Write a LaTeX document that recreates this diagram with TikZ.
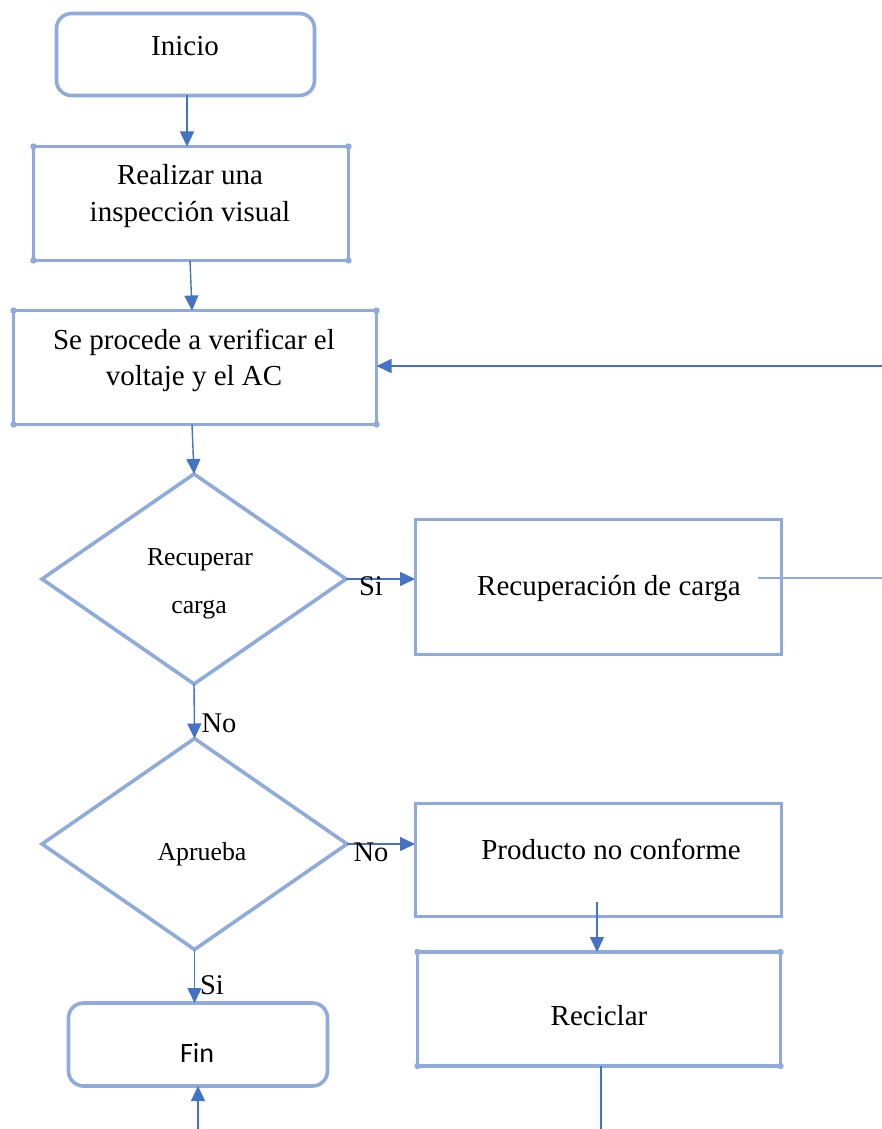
\documentclass[tikz,border=0pt]{standalone}
\usepackage{fontspec}
\setmainfont{Liberation Serif}
\newfontfamily\calibrifont{Carlito}
\usetikzlibrary{arrows.meta,shapes.geometric}
\definecolor{boxblue}{HTML}{8FAADC}
\definecolor{arrblue}{HTML}{4472C4}
\begin{document}
\begin{tikzpicture}[x=1pt,y=-1pt,
  shapebox/.style={draw=boxblue, line width=3.6pt, rectangle, inner sep=0pt, outer sep=0pt},
  roundbox/.style={shapebox, rounded corners=15pt},
  decision/.style={draw=boxblue, line width=3.6pt, diamond, inner sep=0pt, outer sep=0pt},
  arr/.style={draw=arrblue, line width=1.4pt, -{Triangle[length=15pt,width=14pt]}},
  plainline/.style={draw=arrblue, line width=1.5pt},
  thinline/.style={draw=boxblue, line width=1.7pt},
  txt/.style={font=\fontsize{29}{36}\selectfont, anchor=base, inner sep=0pt},
  dtxt/.style={font=\fontsize{25.8}{30}\selectfont, anchor=base, inner sep=0pt},
  lbl/.style={font=\fontsize{28.5}{34}\selectfont, anchor=base, inner sep=0pt},
  cornerdot/.style={fill=boxblue}]
\useasboundingbox (0,0) rectangle (882,1129);
\fill[white] (0,0) rectangle (882,1129);

% shapes
\node[roundbox, minimum width=258pt, minimum height=82pt] (inicio) at (185.5,54.5) {};
\node[shapebox, minimum width=315pt, minimum height=114pt] (b2) at (191,203.5) {};
\node[shapebox, minimum width=363pt, minimum height=114pt] (b3) at (195,367.5) {};
\node[decision, minimum width=304pt, minimum height=210pt] (d1) at (194,579) {};
\node[shapebox, line width=3pt, minimum width=366pt, minimum height=135pt] (recup) at (598,586.5) {};
\node[decision, minimum width=305pt, minimum height=211pt] (d2) at (194.5,844) {};
\node[shapebox, line width=3pt, minimum width=366pt, minimum height=113pt] (prod) at (598,859.5) {};
\node[shapebox, minimum width=363pt, minimum height=114pt] (recic) at (599,1009) {};
\node[roundbox, minimum width=259pt, minimum height=83pt] (fin) at (198,1044.5) {};

% corner dots
\foreach \n in {b2,b3,recic}{
  \foreach \a in {north west,north east,south west,south east}{
    \fill[cornerdot] (\n.\a) circle (3.2pt);
  }
}

% texts
\node[txt] (tInicio) at (185,56) {Inicio};
\node[txt] (tB2a) at (190,184) {Realizar una};
\node[txt] (tB2b) at (190,221) {inspección visual};
\node[txt] (tB3a) at (194,349) {Se procede a verificar el};
\node[txt] (tB3b) at (194,385) {voltaje y el AC};
\node[dtxt] (tD1a) at (200,565) {Recuperar};
\node[dtxt] (tD1b) at (199,613) {carga};
\node[txt] (tRecup) at (609,595) {Recuperación de carga};
\node[dtxt] (tD2) at (202,860) {Aprueba};
\node[txt] (tProd) at (611,859) {Producto no conforme};
\node[txt] (tRecic) at (599,1025) {Reciclar};
\node[font=\calibrifont\fontsize{28}{32}\selectfont, anchor=base, inner sep=0pt] (tFin) at (197,1062) {Fin};

% free-end coordinates
\coordinate (e3) at (882,366);
\coordinate (r1) at (758,578);
\coordinate (e4) at (882,578);
\coordinate (p1) at (597,902);
\coordinate (e1) at (601,1129);
\coordinate (e2) at (198,1129);

% connectors
\draw[arr] ([xshift=1.5pt]inicio.south) -- ([xshift=-4pt]b2.north);
\draw[arr] ([xshift=-1pt]b2.south) -- ([xshift=-3pt]b3.north);
\draw[arr] ([xshift=-3pt]b3.south) -- (d1.north);
\draw[arr] (d1.east) -- (d1.east -| recup.west);
\draw[arr] (d1.south) -- (d2.north);
\draw[arr] (d2.east) -- (d2.east -| prod.west);
\draw[arr] (d2.south) -- (d2.south |- fin.north);
\draw[arr] (p1) -- (p1 |- recic.north);
\draw[plainline] (recic.south -| e1) -- (e1);
\draw[arr] (e2) -- (e2 |- fin.south);
\draw[arr] (e3) -- (e3 -| b3.east);
\draw[thinline] (r1) -- (e4);

% connector labels
\node[lbl] (lSi1) at (371,595) {Si};
\node[lbl] (lNo1) at (219,732) {No};
\node[lbl] (lNo2) at (371,861) {No};
\node[lbl] (lSi2) at (212,994) {Si};
\end{tikzpicture}
\end{document}
